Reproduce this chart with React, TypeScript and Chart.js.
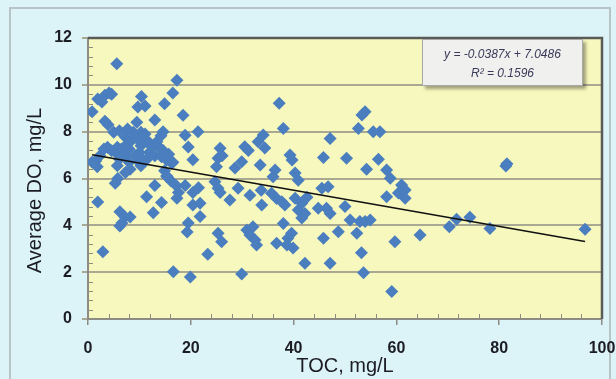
import React, { useEffect, useRef } from 'react';
import { Chart, registerables } from 'chart.js';

Chart.register(...registerables);

// TOC (mg/L) values
const tocValues: number[] = [
  0.8, 5.6, 1.9, 2.9, 1.9, 2.7, 3.3, 4.1, 4.6, 3.3, 3.9, 0.8, 1.8, 1.5, 2.3, 3.1, 3.8, 4.6, 5.4, 5.7,
  6.5, 7.3, 8.0, 5.0, 6.1, 7.7, 8.8, 7.3, 8.4, 9.2, 9.6, 9.2, 7.3, 8.0, 6.1, 5.7, 5.8, 5.3, 7.3, 8.2,
  6.2, 7.2, 8.2, 6.2, 6.6, 9.5, 9.7,
  10.4, 11.1, 10.3, 10.7, 11.1, 11.9, 10.3, 10.0, 11.9, 13.0, 11.5, 10.0, 10.3, 10.7, 12.4, 13.4, 14.3, 14.6, 15.3, 16.3,
  14.2, 15.7, 16.5, 14.9, 15.3, 16.1, 17.2, 17.6, 13.0, 14.6, 14.2, 14.9, 16.5, 17.3, 18.5, 18.9, 19.5, 20.4,
  15.4, 13.0, 11.4, 14.3, 12.7, 17.3, 18.9, 16.6, 19.9, 19.5, 19.3,
  20.4, 20.4, 21.4, 21.8, 21.8, 21.5, 23.3, 25.7, 25.3, 26.1, 25.0, 24.7, 25.3, 25.7, 25.3, 26.0, 27.6, 28.6, 29.2, 29.9, 29.9,
  30.5, 31.2, 33.1, 34.1, 34.4, 33.5, 31.5, 33.7, 33.8, 36.4, 36.0, 35.7, 36.7, 37.7, 38.3, 37.2, 38.0, 39.3, 39.7, 40.3,
  40.9, 40.3, 41.6, 40.9, 42.2, 41.6, 42.6, 38.0, 39.6, 38.9, 38.7, 39.9, 36.7, 30.9, 31.5, 32.1, 32.5, 32.8, 42.2,
  44.8, 46.4, 47.1, 45.5, 46.7, 45.8, 47.1, 50.3, 50.0, 51.0, 52.9, 53.9, 54.9, 48.7, 52.3, 45.8, 47.1, 53.2, 53.6, 59.1,
  59.7, 53.9, 53.3, 52.6, 55.5, 56.8, 54.2, 56.5, 58.1, 58.8, 58.1, 61.0, 61.7, 60.4, 61.7,
  64.6, 70.3, 71.7, 74.3, 78.2, 81.3, 81.5, 96.7,
];

// Average DO (mg/L) values
const doValues: number[] = [
  8.85, 10.9, 5.0, 2.87, 9.4, 9.27, 9.55, 9.65, 9.6, 8.45, 8.3, 6.7, 6.5, 6.75, 6.97, 7.26, 7.33, 7.19, 7.11, 7.33,
  7.26, 7.4, 7.26, 7.97, 8.04, 8.11, 7.97, 7.76, 7.61, 7.83, 7.69, 6.97, 6.97, 6.69, 6.83, 6.54, 6.0, 5.8, 6.26, 6.4,
  4.58, 4.36, 4.36, 3.97, 4.1, 8.4, 9.05,
  9.5, 9.1, 7.97, 7.69, 7.9, 7.54, 7.4, 7.11, 7.11, 6.97, 6.83, 6.69, 6.54, 6.79, 7.36, 7.57, 6.93, 7.2, 6.79, 6.65,
  7.26, 7.04, 6.69, 6.33, 6.11, 5.9, 5.69, 5.4, 8.5, 8.0, 7.83, 9.19, 9.65, 10.2, 8.7, 7.85, 7.35, 6.8,
  6.07, 5.7, 5.22, 4.97, 4.54, 5.16, 5.7, 2.02, 1.79, 4.1, 3.71,
  5.4, 4.87, 8.0, 4.94, 4.38, 5.6, 2.77, 7.29, 6.86, 6.97, 6.5, 5.86, 5.58, 5.4, 3.66, 3.3, 5.08, 6.45, 5.58, 6.72, 1.92,
  7.36, 7.2, 7.57, 7.86, 7.3, 6.58, 5.29, 5.5, 4.87, 6.36, 6.08, 5.37, 5.15, 5.01, 4.87, 9.21, 8.14, 7.0, 6.79, 6.23,
  5.93, 5.16, 4.94, 4.65, 4.51, 4.31, 5.2, 4.08, 3.66, 3.45, 3.16, 3.03, 3.23, 3.8, 3.59, 3.94, 3.37, 3.16, 2.38,
  4.73, 4.73, 4.51, 5.58, 5.65, 6.9, 7.71, 6.86, 4.8, 4.23, 4.16, 4.16, 4.23, 3.73, 3.66, 3.45, 2.38, 2.83, 1.98, 1.17,
  3.3, 8.85, 8.71, 8.14, 8.0, 8.0, 6.39, 6.82, 6.36, 6.01, 5.22, 5.72, 5.51, 5.38, 5.16,
  3.59, 3.94, 4.26, 4.34, 3.87, 6.53, 6.63, 3.83,
];

// Linear trend line from the chart's label
const trendSlope = -0.0387;
const trendIntercept = 7.0486;
const trendLabelLines: string[] = ['y = -0.0387x + 7.0486', 'R² = 0.1596'];

const xTickValues: number[] = [0, 20, 40, 60, 80, 100];
const yTickValues: number[] = [0, 2, 4, 6, 8, 10, 12];
const xTitle = 'TOC, mg/L';
const yTitle = 'Average DO, mg/L';

const FONT = '"Liberation Sans", Arial, sans-serif';

const decorPlugin = {
  id: 'decor',
  beforeDraw(chart: any) {
    const { ctx, chartArea: a, width, height } = chart;
    ctx.save();
    ctx.fillStyle = '#dcf3f7';
    ctx.fillRect(0, 0, width, height);
    // outer frame
    ctx.strokeStyle = '#b9c4c8';
    ctx.lineWidth = 2;
    ctx.strokeRect(10, 8, width - 16, height + 10);
    // plot area
    ctx.fillStyle = '#f7f8bd';
    ctx.fillRect(a.left, a.top, a.right - a.left, a.bottom - a.top);
    ctx.restore();
  },
  beforeDatasetsDraw(chart: any) {
    const { ctx, chartArea: a } = chart;
    const xs = chart.scales.x;
    const ys = chart.scales.y;
    ctx.save();
    ctx.strokeStyle = '#8c8c84';
    ctx.lineWidth = 1;
    // y minor ticks (every 0.4), drawn inward
    for (let i = 1; i < 30; i++) {
      if (i % 5 === 0) continue;
      const py = Math.round(ys.getPixelForValue(i * 0.4)) + 0.5;
      ctx.beginPath();
      ctx.moveTo(a.left, py);
      ctx.lineTo(a.left + 5, py);
      ctx.stroke();
    }
    // x minor ticks (every 4), drawn inward
    for (let i = 1; i < 25; i++) {
      if (i % 5 === 0) continue;
      const px = Math.round(xs.getPixelForValue(i * 4)) + 0.5;
      ctx.beginPath();
      ctx.moveTo(px, a.bottom);
      ctx.lineTo(px, a.bottom - 5);
      ctx.stroke();
    }
    ctx.restore();
  },
  afterDraw(chart: any) {
    const { ctx, chartArea: a } = chart;
    ctx.save();
    // top and right borders
    ctx.strokeStyle = '#5a5a58';
    ctx.lineWidth = 2.5;
    ctx.beginPath();
    ctx.moveTo(a.left, a.top);
    ctx.lineTo(a.right, a.top);
    ctx.lineTo(a.right, a.bottom);
    ctx.stroke();

    // y-axis title (sits a little below the plot's middle, as in the original)
    ctx.save();
    ctx.fillStyle = '#1c1c24';
    ctx.font = `20px ${FONT}`;
    ctx.textAlign = 'center';
    ctx.textBaseline = 'middle';
    ctx.translate(35, (a.top + a.bottom) / 2 + 12);
    ctx.rotate(-Math.PI / 2);
    ctx.fillText(yTitle, 0, 0);
    ctx.restore();

    // trend label box
    const bw = 161;
    const bh = 47;
    const bx = a.right - 19 - bw;
    const by = a.top + 1;
    ctx.shadowColor = 'rgba(0,0,0,0.35)';
    ctx.shadowOffsetX = 3;
    ctx.shadowOffsetY = 3;
    ctx.shadowBlur = 3;
    ctx.fillStyle = '#f0f0ef';
    ctx.fillRect(bx, by, bw, bh);
    ctx.shadowColor = 'transparent';
    ctx.strokeStyle = '#a8a8a8';
    ctx.lineWidth = 1;
    ctx.strokeRect(bx + 0.5, by + 0.5, bw - 1, bh - 1);
    ctx.fillStyle = '#3a3a5a';
    ctx.font = `italic 12px ${FONT}`;
    ctx.textAlign = 'center';
    ctx.textBaseline = 'middle';
    ctx.fillText(trendLabelLines[0], bx + bw / 2, by + 16);
    ctx.fillText(trendLabelLines[1], bx + bw / 2, by + 35);
    ctx.restore();
  },
};

export default function App() {
  const canvasRef = useRef<HTMLCanvasElement | null>(null);

  useEffect(() => {
    const canvas = canvasRef.current;
    if (!canvas) return;
    const points = tocValues.map((x, i) => ({ x, y: doValues[i] }));
    const minX = Math.min(...tocValues);
    const maxX = Math.max(...tocValues);
    const trend = [
      { x: minX, y: trendSlope * minX + trendIntercept },
      { x: maxX, y: trendSlope * maxX + trendIntercept },
    ];

    const chart = new Chart(canvas, {
      type: 'scatter',
      data: {
        datasets: [
          {
            label: 'Average DO',
            data: points,
            pointStyle: 'rectRot',
            pointRadius: 6.5,
            pointBackgroundColor: '#4a7ebf',
            pointBorderColor: '#4a7ebf',
            pointBorderWidth: 0,
            order: 2,
          },
          {
            type: 'line',
            label: 'Linear',
            data: trend,
            borderColor: '#111111',
            borderWidth: 1.6,
            pointRadius: 0,
            fill: false,
            order: 1,
          } as any,
        ],
      },
      options: {
        animation: false,
        responsive: false,
        maintainAspectRatio: false,
        devicePixelRatio: 1,
        layout: { padding: { top: 38, right: 14, left: 0, bottom: 0 } },
        plugins: {
          legend: { display: false },
          tooltip: { enabled: false },
        },
        scales: {
          x: {
            type: 'linear',
            min: 0,
            max: 100,
            afterBuildTicks: (s: any) => {
              s.ticks = xTickValues.map((v) => ({ value: v }));
            },
            afterFit: (s: any) => {
              s.height = 60;
              s.paddingRight = 0;
              s.paddingLeft = 0;
            },
            ticks: {
              font: { family: FONT, size: 16, weight: 'bold' },
              color: '#1c1c24',
              padding: 14,
              maxRotation: 0,
            },
            grid: {
              drawOnChartArea: false,
              drawTicks: true,
              tickLength: 6,
              color: '#8c8c84',
              lineWidth: 1.5,
            },
            border: { display: true, color: '#8c8c84', width: 2 },
            title: {
              display: true,
              text: xTitle,
              font: { family: FONT, size: 20 },
              color: '#1c1c24',
              padding: { top: 0, bottom: 1 },
            },
          },
          y: {
            type: 'linear',
            min: 0,
            max: 12,
            afterBuildTicks: (s: any) => {
              s.ticks = yTickValues.map((v) => ({ value: v }));
            },
            afterFit: (s: any) => {
              s.width = 88;
              s.paddingTop = 0;
              s.paddingBottom = 0;
            },
            ticks: {
              font: { family: FONT, size: 16, weight: 'bold' },
              color: '#1c1c24',
              padding: 10,
            },
            grid: {
              drawOnChartArea: true,
              drawTicks: true,
              tickLength: 6,
              color: '#a9a892',
              lineWidth: 2,
            },
            border: { display: true, color: '#8c8c84', width: 2 },
            title: { display: false, text: yTitle },
          },
        },
      },
      plugins: [decorPlugin],
    });
    return () => chart.destroy();
  }, []);

  return (
    <canvas
      ref={canvasRef}
      width={616}
      height={379}
      style={{ position: 'fixed', left: 0, top: 0, width: 616, height: 379 }}
    />
  );
}
